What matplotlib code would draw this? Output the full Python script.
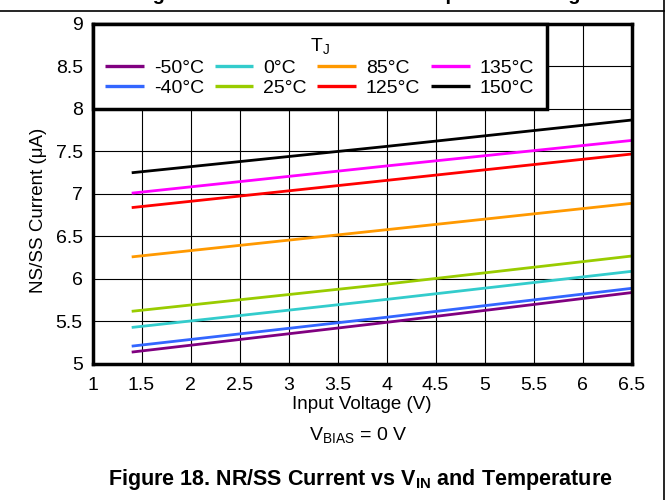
import numpy as np
import matplotlib
matplotlib.use("Agg")
import matplotlib.pyplot as plt
from matplotlib.lines import Line2D

plt.rcParams['font.family'] = ['Liberation Sans', 'DejaVu Sans']
plt.rcParams['mathtext.fontset'] = 'custom'
plt.rcParams['mathtext.rm'] = 'Liberation Sans'
plt.rcParams['mathtext.bf'] = 'Liberation Sans:bold'

# NR/SS current vs input voltage, one line per junction temperature
vin = [1.4, 4.0, 6.5]
temps = ["-50°C", "-40°C", "0°C", "25°C", "85°C", "125°C", "135°C", "150°C"]
i_m50 = [5.14, 5.49, 5.84]
i_m40 = [5.21, 5.55, 5.89]
i_0 = [5.43, 5.76, 6.09]
i_25 = [5.62, 5.94, 6.27]
i_85 = [6.26, 6.58, 6.89]
i_125 = [6.84, 7.16, 7.47]
i_135 = [7.01, 7.33, 7.63]
i_150 = [7.25, 7.56, 7.87]
series = [i_m50, i_m40, i_0, i_25, i_85, i_125, i_135, i_150]
colors = ['#800080', '#3366ff', '#33cccc', '#99cc00', '#ff9900', '#ff0000', '#ff00ff', '#000000']

xticks = [1, 1.5, 2, 2.5, 3, 3.5, 4, 4.5, 5, 5.5, 6, 6.5]
yticks = [5, 5.5, 6, 6.5, 7, 7.5, 8, 8.5, 9]

fig = plt.figure(figsize=(6.69, 5.0), dpi=100)
ax = fig.add_axes([92.5/669, 1-364/500, 539/669, 340/500])

for y, c, t in zip(series, colors, temps):
    ax.plot(vin, y, color=c, lw=2.0, label=t, solid_capstyle='butt')

ax.set_xlim(1, 6.5)
ax.set_ylim(5, 9)
ax.set_xticks(xticks)
ax.set_xticklabels([f"{v:g}" for v in xticks])
ax.set_yticks(yticks)
ax.set_yticklabels([f"{v:g}" for v in yticks])
ax.grid(True, color='black', lw=0.8)
ax.set_axisbelow(True)
for s in ax.spines.values():
    s.set_linewidth(2.5)
ax.tick_params(length=0, labelsize=14)
ax.tick_params(axis='x', pad=9)
ax.tick_params(axis='y', pad=7)

ax.set_xlabel("Input Voltage (V)", fontsize=13.5, labelpad=2)
ax.set_ylabel("NS/SS Current (μA)", fontsize=13.5, labelpad=6)
ax.yaxis.label.set_y(0.453)

leg = ax.legend(loc='upper left', ncol=4, title=r"T$_\mathregular{J}$", fontsize=14,
                title_fontsize=14, frameon=True, fancybox=False, framealpha=1,
                edgecolor='black', borderaxespad=0, handlelength=2.0,
                columnspacing=0.55, handletextpad=0.5, labelspacing=0.12,
                borderpad=0.65)
leg.get_frame().set_linewidth(2.5)
for h in leg.get_lines():
    h.set_linewidth(2.4)

fig.text(0.535, 1 - 436/500, r"V$_\mathregular{BIAS}$ = 0 V", ha='center', va='center', fontsize=14)
fig.text(0.538, 1 - 479/500, r"Figure 18. NR/SS Current vs V$_\mathbf{IN}$ and Temperature",
         ha='center', va='center', fontsize=15.5, fontweight='bold')

# clipped caption of the previous figure at the very top
fig.text(0.543, 1.0, "Figure 17. NR/SS Current vs Temperature Range",
         ha='center', va='baseline', fontsize=14.3, fontweight='bold')
fig.add_artist(Line2D([0, 664/669], [1 - 11/500, 1 - 11/500], color='black', lw=1.2,
                      transform=fig.transFigure))
fig.add_artist(Line2D([664/669, 664/669], [0, 1], color='black', lw=1.2,
                      transform=fig.transFigure))

fig.savefig("out.png", dpi=100)
